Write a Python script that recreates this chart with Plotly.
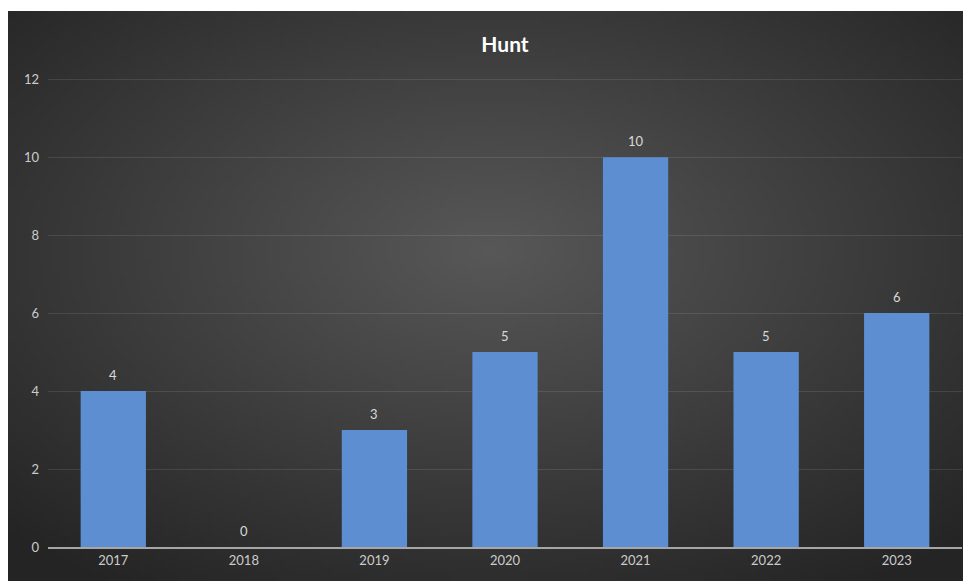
import base64, struct, zlib, math
import plotly.graph_objects as go

years = ["2017", "2018", "2019", "2020", "2021", "2022", "2023"]
counts = [4, 0, 3, 5, 10, 5, 6]
y_ticks = [0, 2, 4, 6, 8, 10, 12]
title_text = "Hunt"


def radial_png(w, h, inner, outer, cx=0.5, cy=0.42):
    rows = []
    for j in range(h):
        row = bytearray([0])
        for i in range(w):
            dx = (i / (w - 1) - cx)
            dy = (j / (h - 1) - cy)
            d = min(1.0, math.sqrt(dx * dx + dy * dy) / 0.72)
            c = [int(inner[k] + (outer[k] - inner[k]) * d) for k in range(3)]
            row += bytes(c)
        rows.append(bytes(row))
    raw = b"".join(rows)

    def chunk(t, data):
        c = struct.pack(">I", len(data)) + t + data
        return c + struct.pack(">I", zlib.crc32(t + data) & 0xffffffff)

    png = b"\x89PNG\r\n\x1a\n"
    png += chunk(b"IHDR", struct.pack(">IIBBBBB", w, h, 8, 2, 0, 0, 0))
    png += chunk(b"IDAT", zlib.compress(raw, 9))
    png += chunk(b"IEND", b"")
    return "data:image/png;base64," + base64.b64encode(png).decode()


bg = radial_png(200, 120, (88, 88, 88), (36, 36, 36))

W, H = 963, 573
ml, mr, mt, mb = 40, 9, 70, 34
pw, ph = W - ml - mr, H - mt - mb
top_white = 3
FONT = "Lato, Open Sans, sans-serif"

fig = go.Figure(
    go.Bar(
        x=years,
        y=counts,
        marker=dict(color="#5e8ed2", line=dict(width=0)),
        width=0.5,
        hoverinfo="x+y",
    )
)

# value labels: category index positions on the x axis
for idx, v in enumerate(counts):
    fig.add_annotation(x=idx, y=v, text=str(v), showarrow=False, yshift=16,
                       font=dict(color="#d9d9d9", size=13, family=FONT))

fig.add_layout_image(
    source=bg,
    xref="paper", yref="paper",
    x=(0 - ml) / pw, y=(H - mb - top_white) / ph,
    sizex=W / pw, sizey=(H - top_white) / ph,
    sizing="stretch", xanchor="left", yanchor="top",
    layer="below",
)

fig.update_layout(
    width=W, height=H,
    margin=dict(l=ml, r=mr, t=mt, b=mb),
    paper_bgcolor="white",
    plot_bgcolor="rgba(0,0,0,0)",
    title=dict(text="<b>" + title_text + "</b>", x=0.5, xref="paper", xanchor="center",
               y=(H - 37) / H, yanchor="middle",
               font=dict(color="white", size=21, family=FONT)),
    showlegend=False,
    font=dict(family=FONT, color="#cccccc", size=13),
)
fig.update_xaxes(type="category", categoryorder="array", categoryarray=years,
                 range=[-0.5, len(years) - 0.5],
                 showgrid=False, showline=True, linecolor="#a6a6a6", linewidth=2,
                 ticks="", tickfont=dict(color="#cccccc", size=13), zeroline=False)
fig.update_yaxes(range=[0, 12.03], tickvals=y_ticks, showgrid=True,
                 gridcolor="rgba(255,255,255,0.1)",
                 gridwidth=1, zeroline=False, showline=False, ticks="",
                 tickfont=dict(color="#cccccc", size=13), ticklabelstandoff=8)

fig.write_html("out.html")
